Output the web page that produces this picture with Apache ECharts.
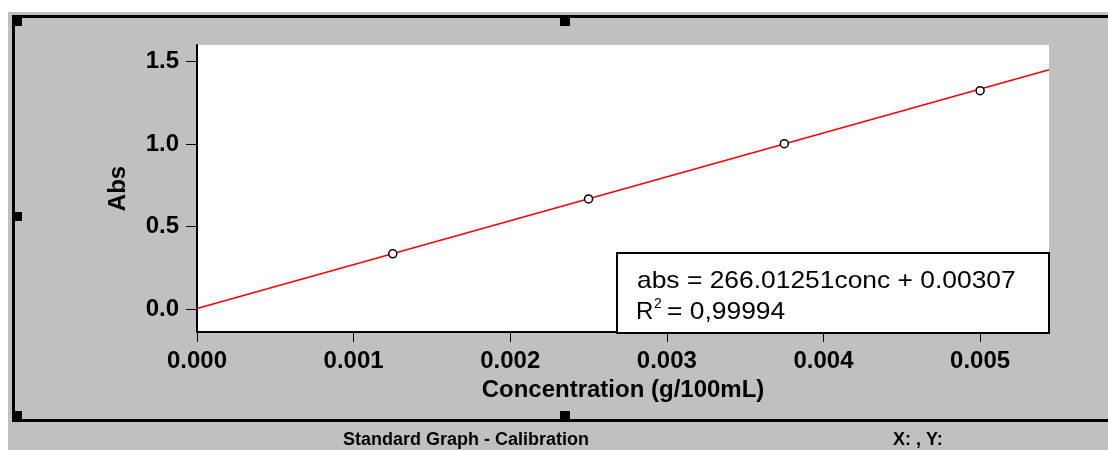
<!DOCTYPE html>
<html>
<head>
<meta charset="utf-8">
<script src="https://cdn.jsdelivr.net/npm/echarts@6/dist/echarts.min.js"></script>
<style>
html,body{margin:0;padding:0;background:#fff;}
#chart{width:1108px;height:450px;}
</style>
</head>
<body>
<div id="chart"></div>
<script>
// ---- data ----
const concentrations = [0.00125, 0.0025, 0.00375, 0.005];
const absorbances = [0.334, 0.667, 1.002, 1.323];
const fitLineX = [0, 0.00544];
const fitLineY = [0.00307, 1.4502];
const xTicks = [0, 0.001, 0.002, 0.003, 0.004, 0.005];
const yTicks = [0, 0.5, 1.0, 1.5];
const xAxisTitle = 'Concentration (g/100mL)';
const yAxisTitle = 'Abs';
const equationText = 'abs = 266.01251conc + 0.00307';
const r2Label = 'R';
const r2Sup = '2';
const r2Value = '= 0,99994';
const statusTitle = 'Standard Graph - Calibration';
const statusXY = 'X: , Y:';

const FONT = '"Liberation Sans", Arial, sans-serif';
const chart = echarts.init(document.getElementById('chart'), null, {renderer: 'canvas'});

const axisText = {fontFamily: FONT, fontWeight: 'bold', fontSize: 24, color: '#000'};

const option = {
  animation: false,
  backgroundColor: '#fff',
  grid: {
    left: 197, top: 45, right: 59, bottom: 118,
    show: true, backgroundColor: '#fff', borderWidth: 0
  },
  xAxis: {
    type: 'value', min: 0, max: fitLineX[1],
    name: xAxisTitle, nameLocation: 'middle', nameGap: 46,
    nameTextStyle: axisText,
    axisLine: {show: true, onZero: false, lineStyle: {color: '#000', width: 2}},
    axisTick: {show: true, length: 10, customValues: xTicks, lineStyle: {color: '#000', width: 1}},
    axisLabel: Object.assign({margin: 17, customValues: xTicks, formatter: v => v.toFixed(3)}, axisText),
    splitLine: {show: false}
  },
  yAxis: {
    type: 'value', min: -0.14, max: 1.6,
    name: yAxisTitle, nameLocation: 'middle', nameGap: 67,
    nameTextStyle: axisText,
    axisLine: {show: true, onZero: false, lineStyle: {color: '#000', width: 2}},
    axisTick: {show: true, length: 11, customValues: yTicks, lineStyle: {color: '#000', width: 1}},
    axisLabel: Object.assign({margin: 18, customValues: yTicks, formatter: v => v.toFixed(1)}, axisText),
    splitLine: {show: false}
  },
  series: [
    {
      type: 'line',
      data: fitLineX.map((x, i) => [x, fitLineY[i]]),
      showSymbol: false,
      lineStyle: {color: '#ff0000', width: 1.6},
      z: 2
    },
    {
      type: 'scatter',
      data: concentrations.map((c, i) => [c, absorbances[i]]),
      symbol: 'circle',
      symbolSize: 8,
      itemStyle: {color: '#fff', borderColor: '#000', borderWidth: 1.5, opacity: 1},
      z: 3
    }
  ],
  graphic: [
    // gray window background
    {type: 'rect', z: -10, silent: true, shape: {x: 8, y: 12, width: 1100, height: 438}, style: {fill: '#c0c0c0'}},
    // frame lines
    {type: 'line', z: 50, silent: true, shape: {x1: 12, y1: 16.5, x2: 1108, y2: 16.5}, style: {stroke: '#000', lineWidth: 3}},
    {type: 'line', z: 50, silent: true, shape: {x1: 13.5, y1: 15, x2: 13.5, y2: 422}, style: {stroke: '#000', lineWidth: 3}},
    {type: 'line', z: 50, silent: true, shape: {x1: 12, y1: 420.5, x2: 1108, y2: 420.5}, style: {stroke: '#000', lineWidth: 3}},
    // handles
    {type: 'rect', z: 51, silent: true, shape: {x: 13, y: 17, width: 9, height: 9}, style: {fill: '#000'}},
    {type: 'rect', z: 51, silent: true, shape: {x: 560, y: 17, width: 10, height: 9}, style: {fill: '#000'}},
    {type: 'rect', z: 51, silent: true, shape: {x: 13, y: 212, width: 9, height: 9}, style: {fill: '#000'}},
    {type: 'rect', z: 51, silent: true, shape: {x: 13, y: 411, width: 9, height: 9}, style: {fill: '#000'}},
    {type: 'rect', z: 51, silent: true, shape: {x: 560, y: 411, width: 10, height: 9}, style: {fill: '#000'}},
    // equation box
    {type: 'rect', z: 60, silent: true, shape: {x: 617, y: 253, width: 432, height: 80}, style: {fill: '#fff', stroke: '#000', lineWidth: 2}},
    {type: 'text', z: 61, silent: true, x: 637, y: 281, scaleX: 1.1,
      style: {text: equationText, fontFamily: FONT, fontSize: 24, fill: '#000', align: 'left', verticalAlign: 'middle'}},
    {type: 'text', z: 61, silent: true, x: 636, y: 312,
      style: {text: r2Label, fontFamily: FONT, fontSize: 24, fill: '#000', align: 'left', verticalAlign: 'middle'}},
    {type: 'text', z: 61, silent: true, x: 654, y: 304,
      style: {text: r2Sup, fontFamily: FONT, fontSize: 14, fill: '#000', align: 'left', verticalAlign: 'middle'}},
    {type: 'text', z: 61, silent: true, x: 667, y: 312, scaleX: 1.1,
      style: {text: r2Value, fontFamily: FONT, fontSize: 24, fill: '#000', align: 'left', verticalAlign: 'middle'}},
    // status bar texts
    {type: 'text', z: 61, silent: true, x: 343, y: 440.5,
      style: {text: statusTitle, fontFamily: FONT, fontWeight: 'bold', fontSize: 18, fill: '#000', align: 'left', verticalAlign: 'middle'}},
    {type: 'text', z: 61, silent: true, x: 893, y: 440.5,
      style: {text: statusXY, fontFamily: FONT, fontWeight: 'bold', fontSize: 18, fill: '#000', align: 'left', verticalAlign: 'middle'}}
  ]
};
chart.setOption(option);
</script>
</body>
</html>
